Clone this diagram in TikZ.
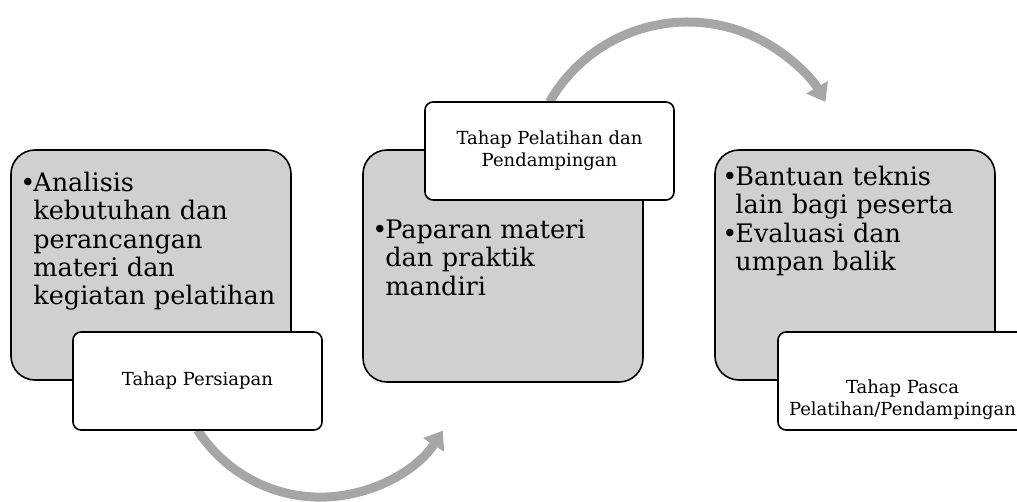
\documentclass[tikz,border=0pt]{standalone}
\usepackage{fontspec}
\setmainfont{DejaVu Serif}
\usetikzlibrary{arrows.meta}
\definecolor{abu}{RGB}{208,208,208}
\definecolor{abupanah}{RGB}{166,166,166}
\newcommand{\butir}[1]{\par\hangindent=13pt\hangafter=1\noindent\makebox[13pt][l]{\textbullet}#1\par}
\begin{document}
\begin{tikzpicture}[x=1pt,y=1pt,line join=round,
	kotak/.style={draw=black,line width=1.6pt,fill=abu,rounded corners=24pt,minimum width=280pt,minimum height=230pt},
	tahap/.style={draw=black,line width=1.6pt,fill=white,rounded corners=8pt,minimum width=249pt,minimum height=98pt,font=\fontsize{18}{22}\selectfont,align=center},
	isi/.style={anchor=north west,inner sep=0pt,text width=275pt,align=left,font=\fontsize{25.5}{28.3}\selectfont},
	panah/.style={draw=abupanah,line width=9pt,-{Triangle[length=17pt,width=24pt]}}]
	\useasboundingbox (0,0) rectangle (1017,501);
	% panah di belakang kotak
	\coordinate (p1) at (197.5,71);
	\coordinate (p2) at (549.5,399);
	\draw[panah] (p1) arc[start angle=212.7,end angle=327,radius=146];
	\draw[panah] (p2) arc[start angle=150.2,end angle=29.8,radius=159];
	% tahap 1
	\node[kotak] (b1) at (151,236) {};
	\node[isi] (t1) at ([shift={(10,-14)}]b1.north west) {\butir{Analisis\newline kebutuhan dan\newline perancangan\newline materi dan\newline kegiatan pelatihan}};
	\node[tahap] (w1) at (197.5,120) {Tahap Persiapan};
	% tahap 2
	\node[kotak,minimum height=232pt] (b2) at (503,235) {};
	\node[isi] (t2) at ([shift={(10,-61)}]b2.north west) {\butir{Paparan materi\newline dan praktik\newline mandiri}};
	\node[tahap] (w2) at (549.5,350) {Tahap Pelatihan dan\\Pendampingan};
	% tahap 3
	\node[kotak] (b3) at (855,236) {};
	\node[isi] (t3) at ([shift={(8,-8)}]b3.north west) {\butir{Bantuan teknis\newline lain bagi peserta}\butir{Evaluasi dan\newline umpan balik}};
	\node[tahap] (w3) at (902.5,120) {\rule{0pt}{50pt}Tahap Pasca\\Pelatihan/Pendampingan};
\end{tikzpicture}
\end{document}
